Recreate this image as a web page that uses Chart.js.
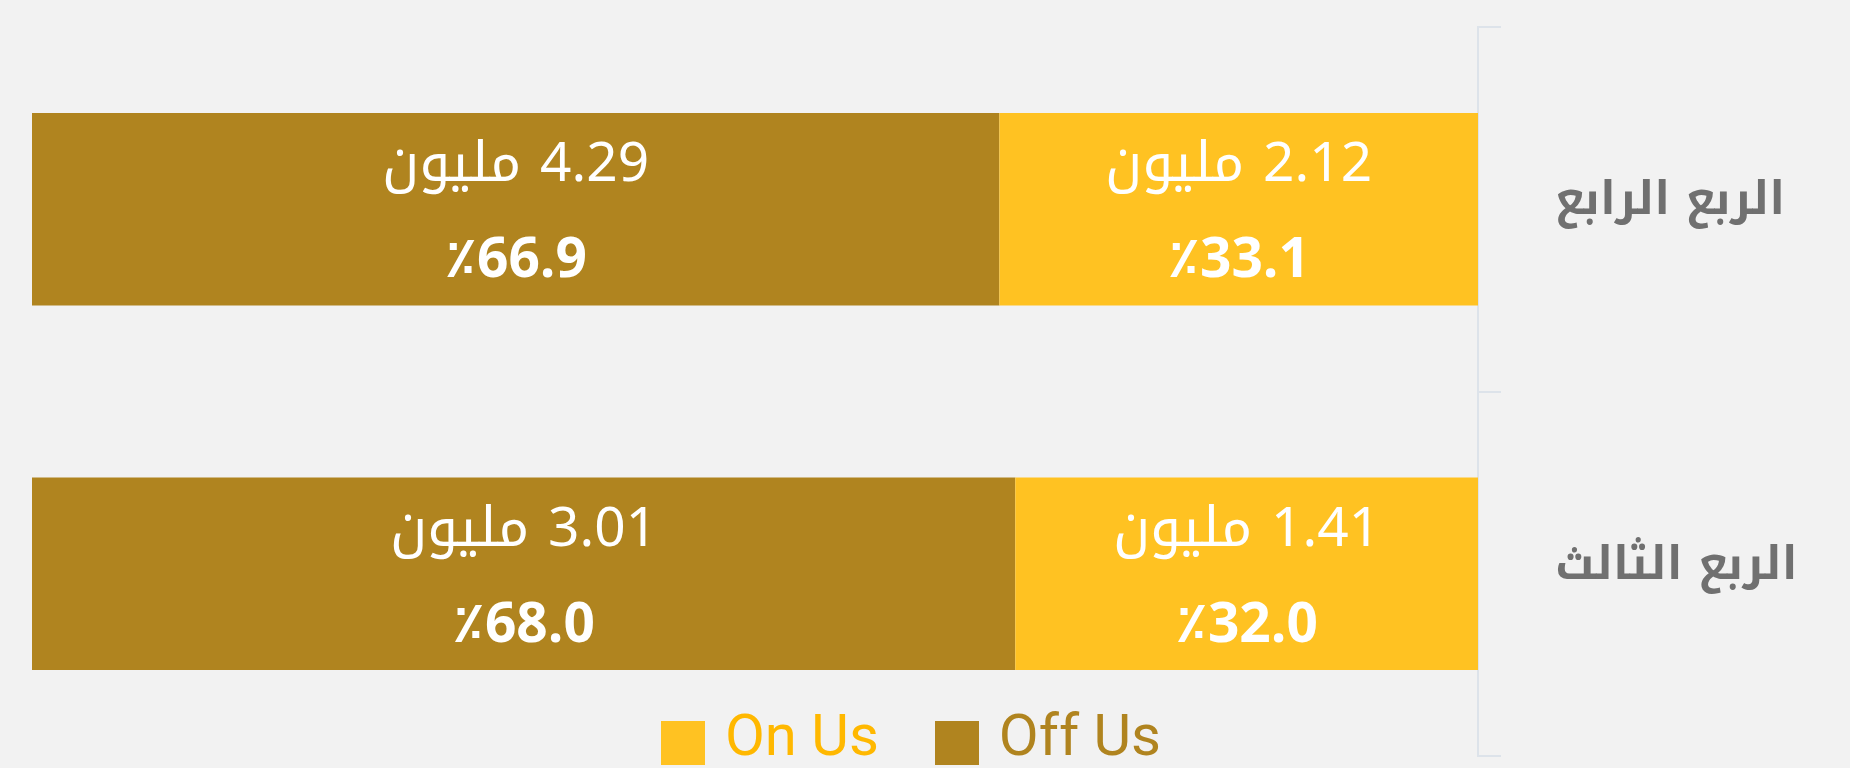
<!DOCTYPE html>
<html lang="ar">
<head>
<meta charset="utf-8">
<script src="https://cdn.jsdelivr.net/npm/chart.js@4.4.1/dist/chart.umd.min.js"></script>
<style>
html,body{margin:0;padding:0;background:#f2f2f2;overflow:hidden;}
#wrap{position:relative;width:1850px;height:768px;}
#legend{position:absolute;left:-14px;top:706px;width:1850px;height:62px;display:flex;justify-content:center;align-items:flex-start;font-family:Roboto,sans-serif;font-size:58px;line-height:1;}
.item{display:flex;align-items:flex-start;margin:0 28px;}
.box{width:44px;height:44px;margin-top:15px;margin-right:20px;}
</style>
</head>
<body>
<div id="wrap"><canvas id="c" width="1850" height="768"></canvas><div id="legend"></div></div>
<script>
const categories = ['الربع الرابع', 'الربع الثالث'];
const seriesNames = ['On Us', 'Off Us'];
const onUsMillions = [2.12, 1.41];
const offUsMillions = [4.29, 3.01];
const onUsPercent = [33.1, 32.0];
const offUsPercent = [66.9, 68.0];
const millionWord = 'مليون';
const percentSign = '٪';

const barColors = ['#FFC222', '#B0841F'];
const legendTextColors = ['#FFB800', '#B0841F'];
const millionsBySeries = [onUsMillions, offUsMillions];
const percentBySeries = [onUsPercent, offUsPercent];
const labelFamily = '"Noto Kufi Arabic", "Noto Sans", sans-serif';

const barLabels = {
  id: 'barLabels',
  afterDatasetsDraw(chart) {
    const ctx = chart.ctx;
    chart.data.datasets.forEach((ds, di) => {
      const meta = chart.getDatasetMeta(di);
      meta.data.forEach((bar, i) => {
        const cx = (bar.x + bar.base) / 2;
        const cy = bar.y;
        ctx.save();
        ctx.direction = 'rtl';
        ctx.textAlign = 'center';
        ctx.textBaseline = 'alphabetic';
        ctx.fillStyle = '#ffffff';
        ctx.font = '55px ' + labelFamily;
        ctx.fillText(millionsBySeries[di][i].toFixed(2) + ' ' + millionWord, cx, cy - 28);
        ctx.font = 'bold 55px ' + labelFamily;
        ctx.fillText(percentSign + percentBySeries[di][i].toFixed(1), cx, cy + 68);
        ctx.restore();
      });
    });
  }
};

function buildChart() {
  const chart = new Chart(document.getElementById('c'), {
    type: 'bar',
    data: {
      labels: categories,
      datasets: [
        { label: seriesNames[0], data: onUsPercent, backgroundColor: barColors[0], barPercentage: 0.66, categoryPercentage: 0.8 },
        { label: seriesNames[1], data: offUsPercent, backgroundColor: barColors[1], barPercentage: 0.66, categoryPercentage: 0.8 }
      ]
    },
    options: {
      indexAxis: 'y',
      responsive: false,
      animation: false,
      layout: { padding: { left: 32, right: 0, top: 27, bottom: 12 } },
      scales: {
        x: { type: 'linear', stacked: true, min: 0, max: 100, reverse: true, display: false },
        y: {
          stacked: true,
          position: 'right',
          afterFit: (s) => { s.width = 372; s.paddingTop = 0; s.paddingBottom = 0; },
          grid: { drawOnChartArea: false, tickLength: 23, color: '#dde3ea', lineWidth: 2 },
          border: { color: '#dde3ea', width: 2 },
          ticks: { padding: 54, labelOffset: -3, color: '#707070', font: { family: labelFamily, size: 45.5, weight: 'bold' } }
        }
      },
      plugins: { legend: { display: false }, tooltip: { enabled: false } }
    },
    plugins: [barLabels]
  });

  const legendEl = document.getElementById('legend');
  chart.data.datasets.forEach((ds, i) => {
    const it = document.createElement('div');
    it.className = 'item';
    const b = document.createElement('span');
    b.className = 'box';
    b.style.background = ds.backgroundColor;
    const t = document.createElement('span');
    t.textContent = ds.label;
    t.style.color = legendTextColors[i];
    it.appendChild(b); it.appendChild(t);
    legendEl.appendChild(it);
  });
}

const fontLoads = [
  document.fonts.load('55px ' + labelFamily, '2.12 ' + millionWord),
  document.fonts.load('bold 55px ' + labelFamily, percentSign + '33.1'),
  document.fonts.load('bold 45.5px ' + labelFamily, categories.join(' ')),
  document.fonts.load('58px Roboto', 'On Us')
];
Promise.all(fontLoads).then(buildChart, buildChart);
</script>
</body>
</html>
